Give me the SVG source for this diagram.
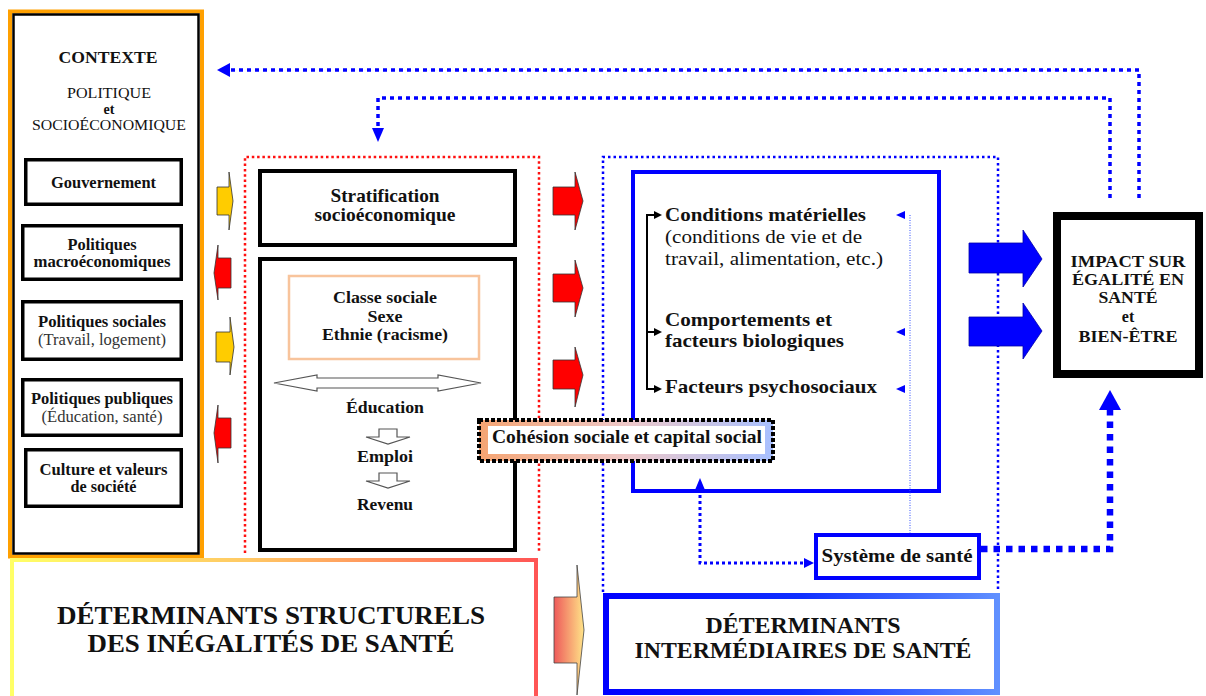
<svg xmlns="http://www.w3.org/2000/svg" width="1206" height="696" viewBox="0 0 1206 696">
<defs>
<linearGradient id="cohGrad" x1="0" y1="0" x2="1" y2="0"><stop offset="0" stop-color="#f5a472"/><stop offset="0.5" stop-color="#eec8c8"/><stop offset="1" stop-color="#a8c0ff"/></linearGradient>
<linearGradient id="structGrad" x1="0" y1="0" x2="1" y2="0"><stop offset="0" stop-color="#ffff66"/><stop offset="0.45" stop-color="#ffc864"/><stop offset="1" stop-color="#ff5555"/></linearGradient>
<linearGradient id="interGrad" x1="0" y1="0" x2="1" y2="0"><stop offset="0" stop-color="#0000ff"/><stop offset="0.5" stop-color="#1030ff"/><stop offset="1" stop-color="#6090ff"/></linearGradient>
<linearGradient id="arrowGrad" x1="0" y1="0" x2="1" y2="0"><stop offset="0" stop-color="#ee5a5a"/><stop offset="1" stop-color="#ffe488"/></linearGradient>
</defs>
<style>
.t{font-family:"Liberation Serif","Times New Roman",serif;fill:#111;text-anchor:middle}
.b{font-weight:bold}
.l{text-anchor:start}
.g{fill:#333}
.box{fill:#fff;stroke:#000}
.sm{stroke-width:3.5}
.blk{fill:#0000ff;stroke:#0000aa;stroke-width:0.8}
.red{fill:#ff0000;stroke:#333;stroke-width:0.8}
.yel{fill:#ffcc00;stroke:#333;stroke-width:0.8}
.dotb{fill:none;stroke:#0000ff}
.hb{fill:#0000ff}
.open{fill:#fff;stroke:#555;stroke-width:1.2}
</style>
<rect width="1206" height="696" fill="#fff"/>

<g id="contexte">
<rect x="10" y="11.5" width="192" height="545" fill="#fff" stroke="#ffa000" stroke-width="4"/>
<rect x="13.5" y="14.5" width="185" height="539" fill="none" stroke="#000" stroke-width="2.5"/>
<text class="t b" x="108" y="63" font-size="17" textLength="99" lengthAdjust="spacingAndGlyphs">CONTEXTE</text>
<text class="t" x="109" y="98" font-size="15" textLength="84" lengthAdjust="spacingAndGlyphs">POLITIQUE</text>
<text class="t b" x="109" y="114" font-size="14">et</text>
<text class="t" x="109" y="130" font-size="15" textLength="154" lengthAdjust="spacingAndGlyphs">SOCIOÉCONOMIQUE</text>
</g>

<g id="gouvernement">
<rect class="box sm" x="25.75" y="159.75" width="155.5" height="44.5"/>
<text class="t b" x="103.5" y="188" font-size="16" textLength="105" lengthAdjust="spacingAndGlyphs">Gouvernement</text>
</g>
<g id="macro">
<rect class="box sm" x="22.75" y="225.75" width="158.5" height="53.5"/>
<text class="t b" x="102" y="250" font-size="16" textLength="69" lengthAdjust="spacingAndGlyphs">Politiques</text>
<text class="t b" x="102" y="267" font-size="16" textLength="137" lengthAdjust="spacingAndGlyphs">macroéconomiques</text>
</g>
<g id="sociales">
<rect class="box sm" x="22.75" y="301.75" width="158.5" height="57.5"/>
<text class="t b" x="102" y="327" font-size="16" textLength="128" lengthAdjust="spacingAndGlyphs">Politiques sociales</text>
<text class="t g" x="102" y="345" font-size="16" textLength="128" lengthAdjust="spacingAndGlyphs">(Travail, logement)</text>
</g>
<g id="publiques">
<rect class="box sm" x="22.75" y="379.75" width="158.5" height="55.5"/>
<text class="t b" x="102" y="404" font-size="16" textLength="142" lengthAdjust="spacingAndGlyphs">Politiques publiques</text>
<text class="t g" x="102" y="422" font-size="16" textLength="121" lengthAdjust="spacingAndGlyphs">(Éducation, santé)</text>
</g>
<g id="culture">
<rect class="box sm" x="25.75" y="449.75" width="155.5" height="56.5"/>
<text class="t b" x="103.5" y="475" font-size="16" textLength="128" lengthAdjust="spacingAndGlyphs">Culture et valeurs</text>
<text class="t b" x="103.5" y="492" font-size="16" textLength="66" lengthAdjust="spacingAndGlyphs">de société</text>
</g>

<g id="structurels-zone">
<path d="M245,553 V157 H539 V553" fill="none" stroke="#ff1010" stroke-width="2.5" stroke-dasharray="2.5 2.8"/>
</g>

<g id="stratification">
<rect class="box" x="260" y="171" width="255" height="74" stroke-width="4"/>
<text class="t b" x="385" y="202" font-size="19" textLength="109" lengthAdjust="spacingAndGlyphs">Stratification</text>
<text class="t b" x="385" y="221" font-size="19" textLength="141" lengthAdjust="spacingAndGlyphs">socioéconomique</text>
</g>

<g id="position-sociale">
<rect class="box" x="260" y="259" width="255" height="291" stroke-width="4"/>
<rect x="289" y="276" width="190" height="83" fill="#fff" stroke="#f8c49c" stroke-width="2.5"/>
<text class="t b" x="385" y="303" font-size="17" textLength="104" lengthAdjust="spacingAndGlyphs">Classe sociale</text>
<text class="t b" x="385" y="322" font-size="17" textLength="35" lengthAdjust="spacingAndGlyphs">Sexe</text>
<text class="t b" x="385" y="340" font-size="17" textLength="126" lengthAdjust="spacingAndGlyphs">Ethnie (racisme)</text>
<polygon class="open" points="274,383 317,375 317,378 438,378 438,375 481,383 438,391 438,388 317,388 317,391"/>
<text class="t b" x="385" y="413" font-size="17" textLength="78" lengthAdjust="spacingAndGlyphs">Éducation</text>
<polygon class="open" points="379,429 397,429 397,437 410,437 388,444 366,437 379,437"/>
<text class="t b" x="385" y="462" font-size="17" textLength="56" lengthAdjust="spacingAndGlyphs">Emploi</text>
<polygon class="open" points="379,473 397,473 397,481 410,481 388,488 366,481 379,481"/>
<text class="t b" x="385" y="510" font-size="17" textLength="56" lengthAdjust="spacingAndGlyphs">Revenu</text>
</g>

<g id="intermediaires-zone">
<path d="M603,592 V157 H998 V592" fill="none" stroke="#0000ff" stroke-width="2.5" stroke-dasharray="2.5 3"/>
</g>

<g id="facteurs">
<rect x="633" y="172" width="306" height="319" fill="#fff" stroke="#0000ff" stroke-width="4"/>
<path d="M655,215 H647 V389 H655 M647,332 H655" fill="none" stroke="#000" stroke-width="2"/>
<polygon points="654,211 662,215 654,219"/>
<polygon points="654,328 662,332 654,336"/>
<polygon points="654,385 662,389 654,393"/>
<text class="t b l" x="665" y="221" font-size="19" textLength="201" lengthAdjust="spacingAndGlyphs">Conditions matérielles</text>
<text class="t l" x="665" y="243" font-size="19" textLength="197" lengthAdjust="spacingAndGlyphs">(conditions de vie et de</text>
<text class="t l" x="665" y="265" font-size="19" textLength="218" lengthAdjust="spacingAndGlyphs">travail, alimentation, etc.)</text>
<text class="t b l" x="665" y="326" font-size="19" textLength="167" lengthAdjust="spacingAndGlyphs">Comportements et</text>
<text class="t b l" x="665" y="347" font-size="19" textLength="179" lengthAdjust="spacingAndGlyphs">facteurs biologiques</text>
<text class="t b l" x="665" y="393" font-size="19" textLength="212" lengthAdjust="spacingAndGlyphs">Facteurs psychosociaux</text>
</g>

<g id="systeme-sante">
<rect x="816" y="535" width="163" height="43" fill="#fff" stroke="#0000ff" stroke-width="4"/>
<text class="t b" x="897" y="562" font-size="18" textLength="151" lengthAdjust="spacingAndGlyphs">Système de santé</text>
</g>

<g id="impact">
<rect class="box" x="1057" y="216" width="142" height="158" stroke-width="8"/>
<text class="t b" x="1128" y="267" font-size="16.5" textLength="115" lengthAdjust="spacingAndGlyphs">IMPACT SUR</text>
<text class="t b" x="1128" y="285" font-size="16.5" textLength="112" lengthAdjust="spacingAndGlyphs">ÉGALITÉ EN</text>
<text class="t b" x="1128" y="303" font-size="16.5" textLength="59" lengthAdjust="spacingAndGlyphs">SANTÉ</text>
<text class="t b" x="1128" y="322" font-size="16">et</text>
<text class="t b" x="1128" y="342" font-size="16.5" textLength="99" lengthAdjust="spacingAndGlyphs">BIEN-ÊTRE</text>
</g>

<g id="structurels">
<rect x="12" y="560" width="524" height="150" fill="#fff" stroke="url(#structGrad)" stroke-width="4"/>
<text class="t b" x="271" y="624" font-size="26" textLength="428" lengthAdjust="spacingAndGlyphs">DÉTERMINANTS STRUCTURELS</text>
<text class="t b" x="271" y="652" font-size="26" textLength="367" lengthAdjust="spacingAndGlyphs">DES INÉGALITÉS DE SANTÉ</text>
</g>

<g id="intermediaires">
<rect x="606" y="596" width="391" height="96" fill="#fff" stroke="url(#interGrad)" stroke-width="6"/>
<text class="t b" x="803" y="633" font-size="23" textLength="195" lengthAdjust="spacingAndGlyphs">DÉTERMINANTS</text>
<text class="t b" x="803" y="658" font-size="23" textLength="337" lengthAdjust="spacingAndGlyphs">INTERMÉDIAIRES DE SANTÉ</text>
</g>

<g id="connectors">
<polygon class="yel" points="217,187 229,187 229,172 233,201 229,230 229,215 217,215"/>
<polygon class="red" points="231,258 218,258 218,245 214,273 218,300 218,288 231,288"/>
<polygon class="yel" points="216,332 230,332 230,317 234,347 230,375 230,362 216,362"/>
<polygon class="red" points="231,418 218,418 218,405 214,433 218,463 218,448 231,448"/>
<polygon class="red" points="553,187 575,187 575,172 583,201 575,230 575,215 553,215"/>
<polygon class="red" points="553,274 575,274 575,260 583,288 575,317 575,302 553,302"/>
<polygon class="red" points="553,360 575,360 575,347 583,375 575,407 575,389 553,389"/>
<polygon points="554,597 577,597 577,565 584,630 577,695 577,663 554,663" fill="url(#arrowGrad)" stroke="#444" stroke-width="0.8"/>
<polygon class="blk" points="969,243 1023,243 1023,230 1042,259 1023,287 1023,273 969,273"/>
<polygon class="blk" points="969,317 1023,317 1023,303 1042,331 1023,359 1023,346 969,346"/>
<path class="dotb" d="M1139,198 V70 H229" stroke-width="3.5" stroke-dasharray="4 4"/>
<polygon class="hb" points="217,70 230,63 230,77"/>
<path class="dotb" d="M1110,198 V98 H378 V130" stroke-width="3.5" stroke-dasharray="4 4"/>
<polygon class="hb" points="378,142 372,128 384,128"/>
<path d="M910,215 V533" fill="none" stroke="#3050ff" stroke-width="1" stroke-dasharray="1 1.5"/>
<polygon class="hb" points="896,215 905,211 905,219"/>
<polygon class="hb" points="896,332 905,328 905,336"/>
<polygon class="hb" points="896,389 905,385 905,393"/>
<path class="dotb" d="M700,489 V563 H806" stroke-width="3" stroke-dasharray="3 3"/>
<polygon class="hb" points="700,478 695,490 705,490"/>
<polygon class="hb" points="814,563 804,558 804,568"/>
<path class="dotb" d="M981,549 H1110 V410" stroke-width="6.5" stroke-dasharray="6.5 6"/>
<polygon class="hb" points="1110,390 1099,410 1121,410"/>
</g>

<g id="cohesion">
<rect x="479" y="420" width="294" height="41" fill="url(#cohGrad)"/>
<rect x="488" y="426" width="277" height="28" fill="#fff"/>
<rect x="479" y="420" width="294" height="41" fill="none" stroke="#000" stroke-width="4" stroke-dasharray="4 2"/>
<text class="t b" x="627" y="443" font-size="19" textLength="270" lengthAdjust="spacingAndGlyphs">Cohésion sociale et capital social</text>
</g>
</svg>
